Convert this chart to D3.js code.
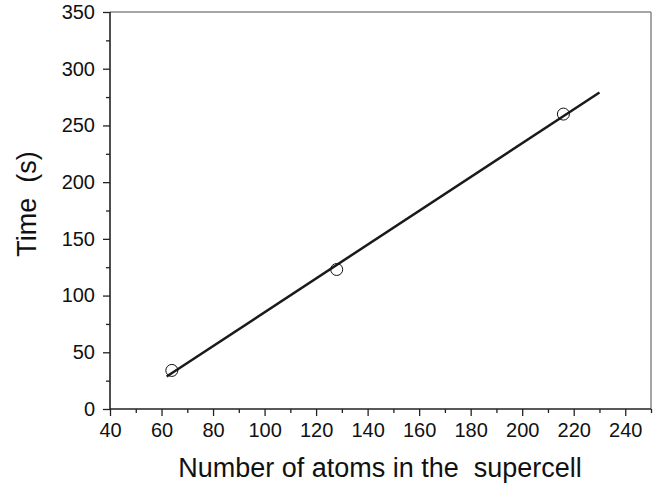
<!DOCTYPE html>
<html><head><meta charset="utf-8">
<script src="https://cdn.jsdelivr.net/npm/d3@7"></script>
<style>body{margin:0;background:#fff}text{font-family:"Liberation Sans",Arial,sans-serif}</style>
</head><body>
<svg id="c" width="669" height="487"></svg>
<script>
const atoms = [64, 128, 216];
const times = [34, 123, 260];
const fitX = [62, 230];
const fitY = [28.6, 279.1];
const xTicks = [40, 60, 80, 100, 120, 140, 160, 180, 200, 220, 240];
const yTicks = [0, 50, 100, 150, 200, 250, 300, 350];
const xMinor = d3.range(50, 251, 20);
const yMinor = d3.range(25, 351, 50);

const svg = d3.select("#c");
const L = 110, R = 651, T = 12, B = 409;
const x = d3.scaleLinear().domain([40, 250]).range([L, R]);
const y = d3.scaleLinear().domain([0, 350]).range([B, T]);

// frame top/right grey
svg.append("line").attr("x1", L).attr("x2", R).attr("y1", T).attr("y2", T).attr("stroke", "#888").attr("stroke-width", 1.5);
svg.append("line").attr("x1", R).attr("x2", R).attr("y1", T).attr("y2", B).attr("stroke", "#888").attr("stroke-width", 1.5);

// minor ticks
const gx = svg.append("g").attr("transform", `translate(0,${B})`);
gx.call(d3.axisBottom(x).tickValues(xMinor).tickSize(4).tickFormat(""));
const gy = svg.append("g").attr("transform", `translate(${L},0)`);
gy.call(d3.axisLeft(y).tickValues(yMinor).tickSize(4).tickFormat(""));
[gx, gy].forEach(g => { g.select(".domain").remove(); g.selectAll("line").attr("stroke", "#222").attr("stroke-width", 1.3); });

// major axes
const ax = svg.append("g").attr("transform", `translate(0,${B})`)
  .call(d3.axisBottom(x).tickValues(xTicks).tickSize(7).tickSizeOuter(0).tickPadding(7));
const ay = svg.append("g").attr("transform", `translate(${L},0)`)
  .call(d3.axisLeft(y).tickValues(yTicks).tickSize(7).tickSizeOuter(0).tickPadding(8));
[ax, ay].forEach(g => {
  g.select(".domain").attr("stroke", "#222").attr("stroke-width", 1.6);
  g.selectAll("line").attr("stroke", "#222").attr("stroke-width", 1.3);
  g.selectAll("text").attr("font-size", 20).attr("fill", "#111").attr("font-family", "Liberation Sans, Arial, sans-serif");
});
ax.select(".domain").attr("d", `M${L},0H${R}`);
ay.select(".domain").attr("d", `M0,${B}V${T}`);

// fit line
svg.append("line")
  .attr("x1", x(fitX[0])).attr("y1", y(fitY[0]))
  .attr("x2", x(fitX[1])).attr("y2", y(fitY[1]))
  .attr("stroke", "#1a1a1a").attr("stroke-width", 2.5);

// points
svg.selectAll("circle.p").data(atoms).enter().append("circle")
  .attr("class", "p")
  .attr("cx", d => x(d)).attr("cy", (d, i) => y(times[i])).attr("r", 6)
  .attr("fill", "none").attr("stroke", "#111").attr("stroke-width", 1);

// titles
svg.append("text").attr("x", 380).attr("y", 477).attr("text-anchor", "middle")
  .attr("font-size", 27).attr("fill", "#111").style("white-space", "pre")
  .text("Number of atoms in the  supercell");
svg.append("text").attr("transform", `translate(36,204) rotate(-90)`).attr("text-anchor", "middle")
  .attr("font-size", 27).attr("fill", "#111").style("white-space", "pre")
  .text("Time  (s)");
</script>
</body></html>
